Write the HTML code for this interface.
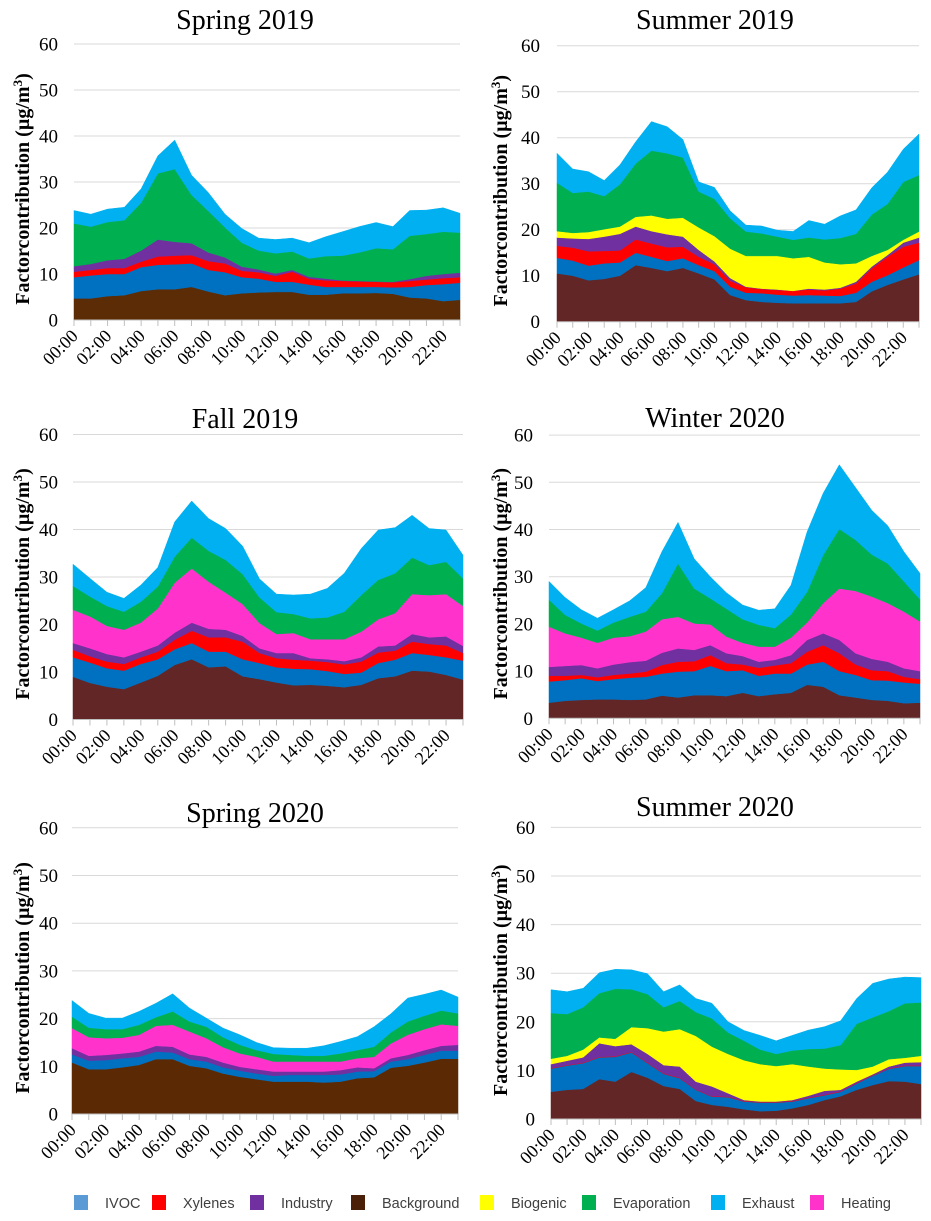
<!DOCTYPE html>
<html><head><meta charset="utf-8">
<style>
html,body{margin:0;padding:0;background:#fff;}
svg{display:block;}
text{font-family:"Liberation Serif",serif;}
.leg{font-family:"Liberation Sans",sans-serif;font-size:14.5px;fill:#404040;}
</style></head>
<body>
<svg id="chart" width="931" height="1221" viewBox="0 0 931 1221" xmlns="http://www.w3.org/2000/svg"></svg>
<script>
const tickLabels = ["00:00","02:00","04:00","06:00","08:00","10:00","12:00","14:00","16:00","18:00","20:00","22:00"];
const yTicks = [0,10,20,30,40,50,60];

// Spring 2019
const sp19Background = [4.7,4.7,5.2,5.4,6.3,6.7,6.7,7.2,6.2,5.4,5.8,6.0,6.1,6.1,5.5,5.5,5.8,5.8,5.9,5.7,4.9,4.7,4.1,4.4];
const sp19Ivoc = [4.6,5.0,4.8,4.6,5.2,5.3,5.4,5.1,4.7,5.0,3.5,3.0,2.2,2.2,2.2,1.7,1.4,1.4,1.3,1.4,2.3,2.9,3.7,3.7];
const sp19Xylenes = [1.2,1.2,1.3,1.3,1.2,1.8,1.9,1.8,1.9,1.9,1.4,1.4,1.3,2.2,1.3,1.4,1.3,1.2,1.1,1.1,1.3,1.2,1.3,1.2];
const sp19Industry = [1.2,1.3,1.7,2.0,2.4,3.7,3.0,2.6,1.9,1.3,0.9,0.6,0.5,0.4,0.4,0.4,0.1,0.1,0.1,0.1,0.4,0.8,0.9,1.0];
const sp19Evaporation = [9.3,8.1,8.3,8.4,10.4,14.4,15.8,10.5,9.0,6.5,5.2,4.1,4.4,4.0,4.0,4.9,5.4,6.2,7.2,7.1,9.4,9.1,9.2,8.7];
const sp19Exhaust = [2.8,2.7,2.8,2.8,3.0,3.8,6.3,4.3,4.0,2.9,3.1,2.7,3.0,2.9,3.4,4.2,5.2,5.6,5.6,4.9,5.5,5.2,5.2,4.2];

// Summer 2019
const su19Background = [10.5,10,9,9.3,10,12.3,11.7,11,11.7,10.5,9.2,5.8,4.7,4.3,4.1,4,4,4,4,4.3,6.6,8,9.2,10.3];
const su19Ivoc = [3.4,3.3,3.2,3.4,2.9,2.7,2.4,2.2,2.1,1.8,1.8,1.8,1.6,1.9,1.8,1.7,1.8,1.7,1.6,2.0,2.1,2.1,2.6,3.1];
const su19Xylenes = [2.6,2.8,3.1,2.7,2.6,2.9,2.9,3.0,2.5,1.8,1.5,1.3,1.2,0.9,1.0,1.0,1.2,1.1,1.6,2.0,2.9,4.0,4.5,3.8];
const su19Industry = [1.8,2.0,2.7,3.1,3.6,2.8,2.7,2.8,2.2,1.5,0.6,0.6,0.1,0.1,0.1,0,0.2,0.2,0.2,0.4,0.4,0.4,0.9,1.1];
const su19Biogenic = [1.4,1.2,1.5,1.6,1.6,2.1,3.4,3.4,4.1,4.9,5.5,6.4,6.7,7.1,7.3,7.1,6.9,5.9,5.1,4.0,2.3,1.1,0.6,1.3];
const su19Evaporation = [10.5,8.7,8.8,7.2,9.2,11.6,14.1,14.2,13.1,7.8,8.1,6.6,5.3,4.9,4.2,4.0,4.2,5.0,5.7,6.4,9.0,10.0,12.6,12.3];
const su19Exhaust = [6.4,5.2,4.3,3.4,4.2,4.7,6.3,5.8,3.9,2.1,2.5,1.6,1.4,1.6,1.4,1.8,3.7,3.3,4.8,5.2,5.8,6.9,7.1,8.9];

// Fall 2019
const fa19Background = [9.0,7.7,6.9,6.4,7.8,9.2,11.5,12.7,11.0,11.2,9.1,8.5,7.8,7.2,7.3,7.1,6.8,7.3,8.7,9.1,10.3,10.1,9.4,8.4];
const fa19Ivoc = [4.1,4.3,3.9,3.9,3.9,3.5,3.3,3.4,3.3,3.1,3.6,3.4,3.2,3.5,3.3,3.1,2.8,2.6,3.2,3.5,3.7,3.5,3.7,4.0];
const fa19Xylenes = [1.6,1.3,1.4,1.4,1.4,1.6,2.0,2.6,3.0,3.0,3.7,2.1,1.9,1.9,1.8,1.9,2.0,2.3,2.2,1.9,2.4,2.3,2.5,1.6];
const fa19Industry = [1.4,1.7,1.6,1.4,1.2,1.3,1.5,1.7,1.8,1.6,1.2,1.0,1.1,1.4,0.5,0.6,0.7,0.9,1.3,1.1,1.6,1.4,1.9,1.5];
const fa19Heating = [7.0,6.7,5.9,5.8,6.1,7.8,10.5,11.4,9.9,7.8,6.7,5.3,4.0,4.2,4.0,4.2,4.6,5.4,5.7,6.8,8.4,8.9,8.9,8.4];
const fa19Evaporation = [5.0,4.2,4.2,3.8,4.4,4.6,5.5,6.5,6.5,6.9,6.3,5.4,4.6,4.0,4.4,4.6,5.8,7.7,8.3,8.4,7.7,6.3,6.8,5.8];
const fa19Exhaust = [4.6,3.8,2.9,2.8,3.5,4.0,7.3,7.7,6.8,6.6,5.9,3.9,3.8,4.0,5.1,6.1,8.1,9.8,10.5,9.6,8.9,7.7,6.7,4.9];

// Winter 2020
const wi20Background = [3.3,3.7,3.9,4.0,4.0,3.9,4.0,4.8,4.4,4.9,4.9,4.7,5.4,4.7,5.1,5.4,7.1,6.7,4.9,4.4,3.9,3.7,3.2,3.3];
const wi20Ivoc = [4.5,4.4,4.6,3.9,4.3,4.7,4.8,4.7,5.5,5.1,6.2,5.3,4.8,4.3,4.4,4.1,4.3,5.3,5.1,4.8,4.2,4.3,4.4,4.0];
const wi20Xylenes = [1.2,0.9,0.7,0.8,0.9,0.9,1.1,1.8,2.1,2.1,2.3,1.7,1.2,1.7,1.7,2.2,2.7,3.5,3.8,2.2,2.1,2.0,1.2,1.0];
const wi20Industry = [1.9,2.1,2.1,1.9,2.2,2.4,2.3,2.6,2.8,2.4,2.1,2.1,1.8,1.3,1.2,1.7,2.5,2.5,2.8,2.4,2.4,2.0,1.8,1.7];
const wi20Heating = [8.5,6.9,5.8,5.4,5.7,5.5,6.2,7.1,6.7,5.6,4.4,3.5,2.8,3.2,2.8,3.7,3.7,6.4,10.9,13.2,13.2,12.4,12.0,10.5];
const wi20Evaporation = [5.7,3.9,3.0,2.6,3.2,4.1,4.2,5.5,11.3,7.4,5.5,5.9,5.0,4.6,3.9,4.9,6.5,10.2,12.6,10.8,8.9,8.4,6.4,4.7];
const wi20Exhaust = [3.9,3.7,2.9,2.6,2.7,3.4,5.1,8.8,8.7,6.3,4.6,3.4,3.0,3.1,4.1,6.2,12.7,13.1,13.6,11.1,9.4,8.0,6.3,5.5];

// Spring 2020
const sp20Background = [10.8,9.4,9.4,9.8,10.3,11.5,11.5,10.1,9.6,8.5,7.8,7.3,6.8,6.8,6.8,6.6,6.8,7.5,7.7,9.7,10.1,10.8,11.6,11.6];
const sp20Ivoc = [1.7,1.8,1.9,1.9,1.7,1.6,1.4,1.4,1.4,1.3,1.3,1.2,1.2,1.4,1.4,1.6,1.5,1.4,1.3,1.3,1.4,1.6,1.7,1.7];
const sp20Industry = [1.3,1.0,1.1,1.0,1.1,1.2,1.2,1.0,1.0,1.0,0.8,0.9,0.9,0.7,0.7,0.7,0.9,0.9,0.6,0.7,0.9,1.0,1.0,1.2];
const sp20Heating = [4.2,3.9,3.5,3.3,3.5,4.2,4.6,4.8,3.9,3.2,2.8,2.6,2.1,2.1,2.1,2.1,1.8,1.9,2.4,3.1,4.2,4.4,4.5,4.0];
const sp20Evaporation = [2.4,2.0,1.9,1.8,2.1,1.8,2.8,2.1,2.4,2.1,1.8,1.4,1.6,1.4,1.2,1.2,1.7,1.7,2.1,2.3,2.8,2.8,2.9,2.6];
const sp20Exhaust = [3.4,3.0,2.3,2.3,2.8,2.9,3.7,2.8,1.8,1.9,2.1,1.6,1.3,1.4,1.6,2.1,2.5,2.8,4.2,3.9,4.9,4.5,4.3,3.4];

// Summer 2020
const su20Background = [5.6,6,6.2,8.2,7.7,9.7,8.5,6.8,6.2,3.7,2.9,2.5,2,1.6,1.7,2.2,2.9,3.9,4.7,6,7,7.8,7.7,7.2];
const su20Ivoc = [4.8,5.0,5.3,4.5,5.1,4.0,3.0,2.5,2.2,2.3,1.7,2.0,1.6,1.8,1.7,1.4,1.4,1.0,0.9,1.3,1.9,2.5,3.2,3.7];
const su20Xylenes = [0.1,0.1,0.1,0.1,0.1,0.1,0.1,0.1,0.1,0.1,0.1,0.1,0.1,0.1,0.1,0.1,0.1,0.1,0.1,0.1,0.1,0.1,0.1,0.1];
const su20Industry = [0.8,0.9,1.1,2.8,2.1,1.6,1.8,1.7,2.3,1.6,2.0,0.7,0.2,0.1,0.1,0.2,0.4,0.8,0.3,0.3,0.2,0.4,0.6,0.7];
const su20Biogenic = [1.1,1.0,1.6,1.2,1.5,3.5,5.3,6.9,7.7,9.4,8.2,8.1,8.2,7.7,7.3,7.4,6.0,4.6,4.2,2.4,1.6,1.5,1.0,1.3];
const su20Evaporation = [9.4,8.6,8.7,9.1,10.3,7.8,7.0,5.0,5.8,4.9,5.8,4.4,4.0,3.0,2.5,2.8,3.6,4.1,5.0,9.5,10.1,9.9,11.2,11.0];
const su20Exhaust = [4.8,4.6,3.9,4.2,4.0,4.0,4.2,3.2,3.3,2.8,3.1,2.2,2.1,2.9,2.7,3.1,3.9,4.5,5.0,5.2,7.0,6.6,5.4,5.1];

const COL = {ivoc:"#0070c0",xyl:"#ff0000",ind:"#7030a0",bio:"#ffff00",evap:"#00b050",exh:"#00b0f0",heat:"#ff33cc"};

const panels = [
 {id:"spring-2019",title:"Spring 2019",tx:245,ty:29,left:74,right:460,y0:320,unit:4.6,labX:58,titleX:22,bg:"#5b2c06",
  series:[["background",sp19Background],["ivoc",sp19Ivoc],["xylenes",sp19Xylenes],["industry",sp19Industry],["evaporation",sp19Evaporation],["exhaust",sp19Exhaust]]},
 {id:"summer-2019",title:"Summer 2019",tx:715,ty:29,left:557,right:919,y0:321.7,unit:4.6,labX:540,titleX:500,bg:"#612625",
  series:[["background",su19Background],["ivoc",su19Ivoc],["xylenes",su19Xylenes],["industry",su19Industry],["biogenic",su19Biogenic],["evaporation",su19Evaporation],["exhaust",su19Exhaust]]},
 {id:"fall-2019",title:"Fall 2019",tx:245,ty:428,left:73,right:463,y0:719.5,unit:4.75,labX:58,titleX:22,bg:"#612625",
  series:[["background",fa19Background],["ivoc",fa19Ivoc],["xylenes",fa19Xylenes],["industry",fa19Industry],["heating",fa19Heating],["evaporation",fa19Evaporation],["exhaust",fa19Exhaust]]},
 {id:"winter-2020",title:"Winter 2020",tx:715,ty:427,left:549,right:920,y0:718.3,unit:4.72,labX:533,titleX:500,bg:"#612625",
  series:[["background",wi20Background],["ivoc",wi20Ivoc],["xylenes",wi20Xylenes],["industry",wi20Industry],["heating",wi20Heating],["evaporation",wi20Evaporation],["exhaust",wi20Exhaust]]},
 {id:"spring-2020",title:"Spring 2020",tx:255,ty:822,left:72,right:458,y0:1114,unit:4.77,labX:58,titleX:22,bg:"#5b2a04",
  series:[["background",sp20Background],["ivoc",sp20Ivoc],["industry",sp20Industry],["heating",sp20Heating],["evaporation",sp20Evaporation],["exhaust",sp20Exhaust]]},
 {id:"summer-2020",title:"Summer 2020",tx:715,ty:816,left:551,right:921,y0:1119,unit:4.86,labX:535,titleX:500,bg:"#612625",
  series:[["background",su20Background],["ivoc",su20Ivoc],["xylenes",su20Xylenes],["industry",su20Industry],["biogenic",su20Biogenic],["evaporation",su20Evaporation],["exhaust",su20Exhaust]]}
];

const colorFor = {ivoc:COL.ivoc,xylenes:COL.xyl,industry:COL.ind,biogenic:COL.bio,evaporation:COL.evap,exhaust:COL.exh,heating:COL.heat};
const NS = "http://www.w3.org/2000/svg";
const svg = document.getElementById("chart");
function mk(tag, attrs, parent){
  const e = document.createElementNS(NS, tag);
  for (const k in attrs) e.setAttribute(k, attrs[k]);
  (parent||svg).appendChild(e);
  return e;
}

panels.forEach(p => {
  const g = mk("g", {});
  
  
  const n = p.series[0][1].length;
  const xs = i => p.left + (p.right - p.left) * i / (n - 1);
  const ys = v => p.y0 - v * p.unit;

  yTicks.forEach(t => {
    if (t > 0) {
      const gl = mk("line", {x1:p.left, x2:p.right, y1:ys(t), y2:ys(t), stroke:"#d9d9d9", "stroke-width":1}, g);
      
      
    }
    const tl = mk("text", {x:p.labX, y:ys(t)+6.5, "text-anchor":"end", "font-size":19, fill:"#000"}, g);
    tl.textContent = t;
    
    
  });

  const cum = new Array(n).fill(0);
  p.series.forEach(([key, vals]) => {
    const lower = cum.slice();
    for (let i = 0; i < n; i++) cum[i] += vals[i];
    let d = "";
    for (let i = 0; i < n; i++) d += (i ? "L" : "M") + xs(i).toFixed(1) + "," + ys(cum[i]).toFixed(1);
    for (let i = n - 1; i >= 0; i--) d += "L" + xs(i).toFixed(1) + "," + ys(lower[i]).toFixed(1);
    d += "Z";
    const col = key === "background" ? p.bg : colorFor[key];
    const a = mk("path", {d:d, fill:col, stroke:col, "stroke-width":0.5}, g);
    
    
  });

  const ax = mk("line", {x1:p.left, x2:p.right, y1:p.y0, y2:p.y0, stroke:"#bfbfbf", "stroke-width":1}, g);
  
  
  for (let i = 0; i < n; i++) {
    const tk = mk("line", {x1:xs(i), x2:xs(i), y1:p.y0, y2:p.y0+6, stroke:"#bfbfbf", "stroke-width":1}, g);
    
    
  }
  tickLabels.forEach((lab, j) => {
    const x = xs(j * 2) + 5, y = p.y0 + 17;
    const t = mk("text", {x:x, y:y, "text-anchor":"end", "font-size":18, transform:"rotate(-45 " + x + " " + y + ")"}, g);
    t.textContent = lab;
    
    
  });

  const tt = mk("text", {x:p.tx, y:p.ty, "text-anchor":"middle", "font-size":28}, g);
  tt.textContent = p.title;
  
  

  const cy = (ys(60) + p.y0) / 2;
  const yt = mk("text", {x:p.titleX, y:cy, "text-anchor":"middle", "font-size":20, "font-weight":"bold", transform:"rotate(-90 " + (p.titleX+7) + " " + cy + ")"}, g);
  yt.innerHTML = 'Factorcontribution (µg/m<tspan baseline-shift="super" font-size="13">3</tspan>)';
  
  
});

const legendNames = ["IVOC","Xylenes","Industry","Background","Biogenic","Evaporation","Exhaust","Heating"];
const legendColors = ["#5b9bd5","#ff0000","#7030a0","#4a2108","#ffff00","#00b050","#00b0f0","#ff33cc"];
const legendX = [74,152,250,351,480,582,711,810];
const lg = mk("g", {});


legendNames.forEach((nm, i) => {
  const r = mk("rect", {x:legendX[i], y:1195, width:14, height:15, fill:legendColors[i]}, lg);
  
  
  const t = mk("text", {x:legendX[i]+31, y:1208, class:"leg"}, lg);
  t.textContent = nm;
  
  
});
</script>
</body></html>
